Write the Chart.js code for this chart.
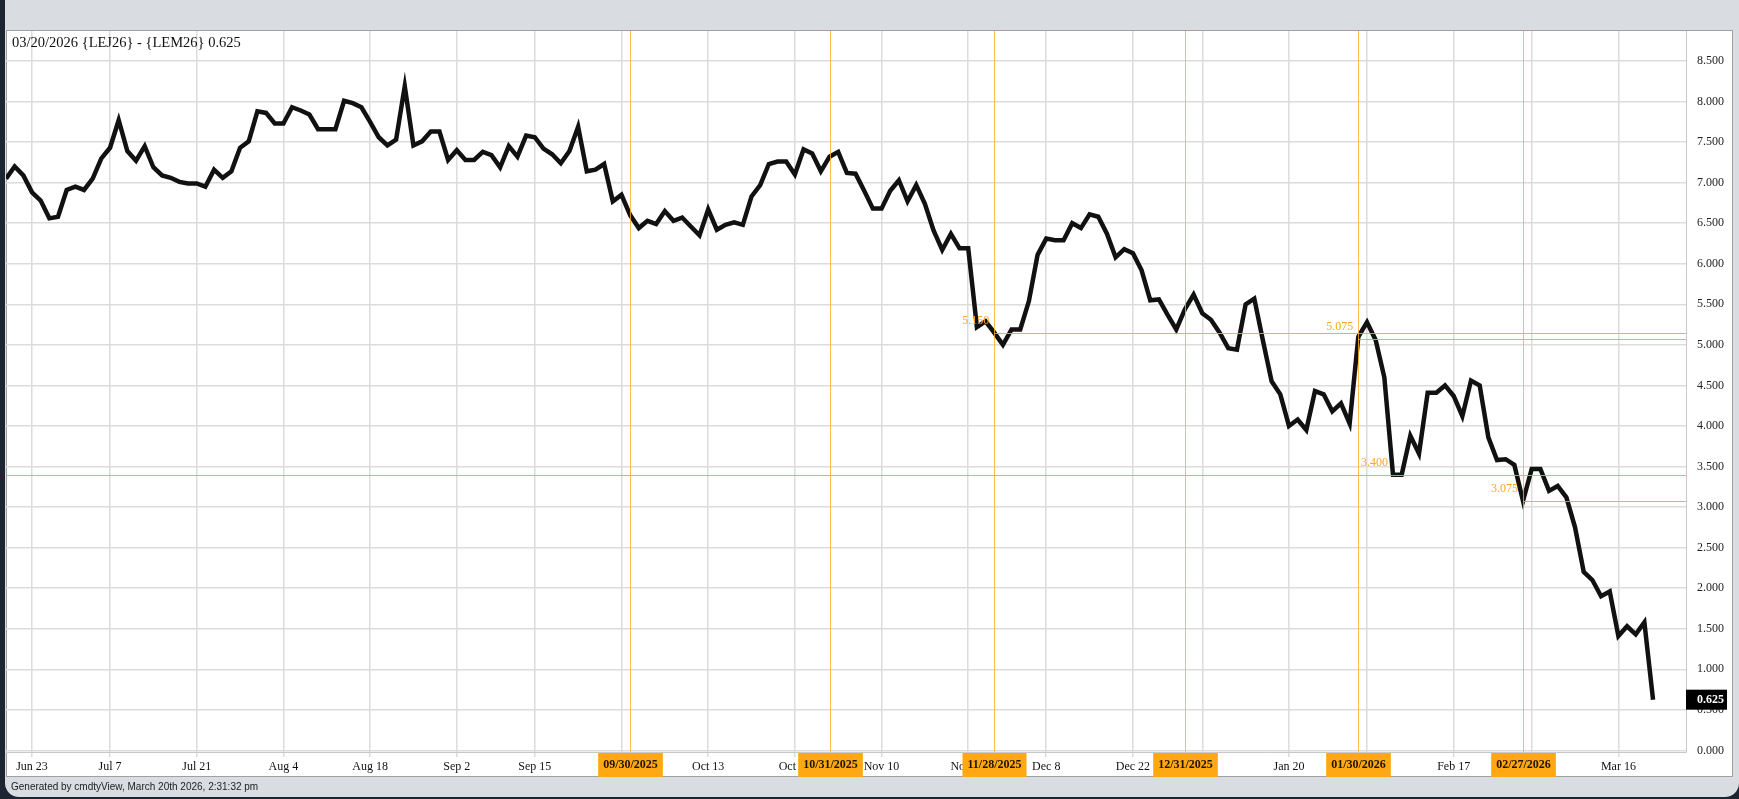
<!DOCTYPE html>
<html>
<head>
<meta charset="utf-8">
<script src="https://cdn.jsdelivr.net/npm/chart.js@4.4.1/dist/chart.umd.min.js"></script>
<style>
  html, body { margin: 0; padding: 0; width: 1739px; height: 799px; overflow: hidden; background: #1d2533; }
  #frame { position: absolute; left: 5px; top: 0; width: 1734px; height: 797px; background: #d9dce1; border-radius: 0 0 14px 14px; }
  #panel { position: absolute; left: 6px; top: 30px; width: 1727px; height: 747px; background: #fff; box-sizing: border-box; border: 1px solid #a0a0a0; }
  #title { position: absolute; left: 12px; top: 34px; font: 14.5px "Liberation Serif", "Times New Roman", serif; color: #111; white-space: nowrap; }
  #footer { position: absolute; left: 11px; top: 781px; font: 10px "Liberation Sans", Arial, sans-serif; color: #222; white-space: nowrap; }
  #chart { position: absolute; left: 0; top: 0; }
</style>
</head>
<body>
<div id="frame"></div>
<div id="panel"></div>
<canvas id="chart" width="1739" height="799"></canvas>
<div id="title">03/20/2026 {LEJ26} - {LEM26} 0.625</div>
<div id="footer">Generated by cmdtyView, March 20th 2026, 2:31:32 pm</div>

<script>
// spread LEJ26 - LEM26, one value per trading day (Jun 18 2025 .. Mar 20 2026)
var spreadVals = [
    7.05, 7.20, 7.09, 6.88, 6.78, 6.56, 6.58, 6.91, 6.95, 6.91,
    7.05, 7.30, 7.43, 7.77, 7.39, 7.27, 7.45, 7.19, 7.09, 7.06,
    7.01, 6.99, 6.99, 6.95, 7.16, 7.06, 7.14, 7.43, 7.51, 7.88,
    7.86, 7.73, 7.73, 7.93, 7.89, 7.84, 7.66, 7.66, 7.66, 8.01,
    7.98, 7.93, 7.75, 7.56, 7.46, 7.53, 8.19, 7.46, 7.51, 7.63,
    7.63, 7.28, 7.40, 7.28, 7.28, 7.38, 7.34, 7.19, 7.45, 7.32,
    7.58, 7.56, 7.42, 7.35, 7.24, 7.39, 7.69, 7.14, 7.16, 7.23,
    6.77, 6.85, 6.60, 6.44, 6.53, 6.49, 6.65, 6.53, 6.57, 6.46,
    6.35, 6.67, 6.42, 6.48, 6.51, 6.48, 6.83, 6.97, 7.23, 7.26,
    7.26, 7.10, 7.41, 7.36, 7.14, 7.32, 7.38, 7.12, 7.11, 6.90,
    6.68, 6.68, 6.90, 7.03, 6.77, 6.97, 6.74, 6.41, 6.17, 6.37,
    6.19, 6.19, 5.22, 5.29, 5.15, 5.00, 5.19, 5.19, 5.54, 6.11,
    6.31, 6.29, 6.29, 6.50, 6.44, 6.61, 6.58, 6.37, 6.08, 6.18,
    6.13, 5.92, 5.55, 5.56, 5.37, 5.19, 5.44, 5.62, 5.39, 5.31,
    5.15, 4.96, 4.94, 5.50, 5.57, 5.05, 4.55, 4.39, 4.00, 4.08,
    3.95, 4.43, 4.39, 4.18, 4.28, 4.03, 5.10, 5.28, 5.06, 4.60,
    3.40, 3.40, 3.88, 3.66, 4.41, 4.41, 4.50, 4.37, 4.12, 4.56,
    4.50, 3.86, 3.58, 3.59, 3.52, 3.075, 3.47, 3.47, 3.20, 3.26,
    3.12, 2.75, 2.20, 2.10, 1.90, 1.96, 1.41, 1.53, 1.43, 1.58,
    0.625
];

// x axis: trading-day index of each labelled gridline
var tickIdx = [3, 12, 22, 32, 42, 52, 61, 71, 81, 91, 101, 111, 120, 130, 138, 148, 157, 167, 176, 186];
var tickLabels = ['Jun 23', 'Jul 7', 'Jul 21', 'Aug 4', 'Aug 18', 'Sep 2', 'Sep 15', 'Sep 29', 'Oct 13', 'Oct 27',
                  'Nov 10', 'Nov 24', 'Dec 8', 'Dec 22', 'Jan 5', 'Jan 20', 'Feb 2', 'Feb 17', 'Mar 2', 'Mar 16'];

var yTicks = [0, 0.5, 1, 1.5, 2, 2.5, 3, 3.5, 4, 4.5, 5, 5.5, 6, 6.5, 7, 7.5, 8, 8.5];

// month-end marker lines
var markIdx = [72, 95, 114, 136, 156, 175];
var markLabels = ['09/30/2025', '10/31/2025', '11/28/2025', '12/31/2025', '01/30/2026', '02/27/2026'];

// horizontal level lines (start = null -> whole width)
var levelVals = [5.150, 5.075, 3.400, 3.075];
var levelStart = [114, 156, null, 175];
var levelLabelAt = [114, 156, 160, 175];

var lastVal = 0.625;

var serif = '"Liberation Serif", "Times New Roman", serif';
var orange = '#ffa51f';

var markers = {
    id: 'markers',
    afterDraw: function(chart) {
        var c = chart.ctx;
        var xs = chart.scales.x, ys = chart.scales.y, a = chart.chartArea;
        c.save();

        // horizontal levels
        c.lineWidth = 1;
        c.strokeStyle = 'rgba(255,165,20,0.9)';
        c.font = '12px ' + serif;
        c.fillStyle = orange;
        c.textAlign = 'right';
        c.textBaseline = 'middle';
        for (var i = 0; i < levelVals.length; i++) {
            var y = Math.round(ys.getPixelForValue(levelVals[i])) + 0.5;
            var x0 = levelStart[i] === null ? a.left : xs.getPixelForValue(levelStart[i]);
            c.beginPath();
            c.moveTo(x0, y);
            c.lineTo(a.right, y);
            c.stroke();
            c.fillText(levelVals[i].toFixed(3), xs.getPixelForValue(levelLabelAt[i]) - 5, y - 13);
        }

        // vertical month-end lines + date boxes
        c.strokeStyle = 'rgba(255,170,30,0.8)';
        c.font = 'bold 12px ' + serif;
        c.textAlign = 'center';
        for (var j = 0; j < markIdx.length; j++) {
            var x = Math.round(xs.getPixelForValue(markIdx[j])) + 0.5;
            c.beginPath();
            c.moveTo(x, a.top);
            c.lineTo(x, a.bottom);
            c.stroke();
            var w = c.measureText(markLabels[j]).width + 10;
            c.fillStyle = '#ffa812';
            c.fillRect(x - w / 2, a.bottom + 1, w, 24);
            c.fillStyle = '#1e1400';
            c.fillText(markLabels[j], x, a.bottom + 13);
        }

        // last price tag
        var yl = ys.getPixelForValue(lastVal);
        c.fillStyle = '#000';
        c.fillRect(a.right, yl - 10, 41, 20);
        c.fillStyle = '#fff';
        c.textAlign = 'left';
        c.fillText(lastVal.toFixed(3), a.right + 11, yl);
        c.restore();
    }
};

var ctx = document.getElementById('chart').getContext('2d');
var chart = new Chart(ctx, {
    type: 'line',
    data: {
        datasets: [{
            data: spreadVals.map(function(v, i) { return { x: i, y: v }; }),
            borderColor: '#111',
            borderWidth: 4.5,
            pointRadius: 0,
            tension: 0,
            fill: false
        }]
    },
    options: {
        responsive: false,
        animation: false,
        layout: { padding: { left: 6, top: 31, right: 6, bottom: 22 } },
        plugins: { legend: { display: false }, tooltip: { enabled: false } },
        scales: {
            x: {
                type: 'linear',
                min: 0,
                max: 193.8,
                afterBuildTicks: function(s) { s.ticks = tickIdx.map(function(v) { return { value: v }; }); },
                afterFit: function(s) { s.height = 25; },
                grid: { color: '#dcdcdc', lineWidth: 1.5, tickLength: 5 },
                border: { color: '#c8c8c8' },
                ticks: {
                    autoSkip: false,
                    maxRotation: 0,
                    padding: 3,
                    color: '#111',
                    font: { family: serif, size: 12 },
                    callback: function(v) { return tickLabels[tickIdx.indexOf(v)]; }
                }
            },
            y: {
                position: 'right',
                min: -0.02,
                max: 8.87,
                afterBuildTicks: function(s) { s.ticks = yTicks.map(function(v) { return { value: v }; }); },
                afterFit: function(s) { s.width = 47; },
                grid: { color: '#dcdcdc', lineWidth: 1.5, drawTicks: false },
                border: { color: '#c8c8c8' },
                ticks: {
                    padding: 11,
                    color: '#222',
                    font: { family: serif, size: 12 },
                    callback: function(v) { return v.toFixed(3); }
                }
            }
        }
    },
    plugins: [markers]
});
</script>
</body>
</html>
